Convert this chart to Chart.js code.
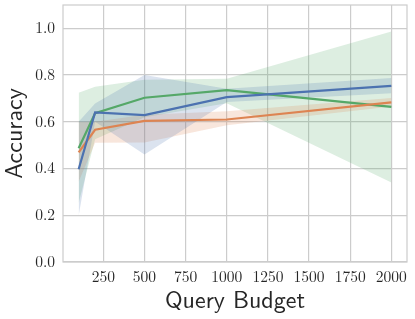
<!DOCTYPE html>
<html>
<head>
<meta charset="utf-8">
<script src="https://cdn.jsdelivr.net/npm/chart.js@4/dist/chart.umd.min.js"></script>
<style>
html,body{margin:0;padding:0;background:#fff;}
#c{display:block;}
</style>
</head>
<body>
<canvas id="c" width="415" height="319"></canvas>
<script>
// ---- data ----
const budgets = [100, 200, 500, 1000, 2000];

const blueMean  = [0.397, 0.640, 0.629, 0.706, 0.754];
const blueUpper = [0.600, 0.678, 0.800, 0.742, 0.788];
const blueLower = [0.198, 0.600, 0.460, 0.685, 0.722];

const orangeMean  = [0.469, 0.566, 0.604, 0.610, 0.683];
const orangeUpper = [0.600, 0.600, 0.630, 0.645, 0.702];
const orangeLower = [0.344, 0.510, 0.512, 0.585, 0.666];

const greenMean  = [0.487, 0.637, 0.703, 0.736, 0.664];
const greenUpper = [0.724, 0.750, 0.780, 0.784, 0.987];
const greenLower = [0.251, 0.525, 0.620, 0.680, 0.340];

const xTicks = [250, 500, 750, 1000, 1250, 1500, 1750, 2000];
const yTicks = [0.0, 0.2, 0.4, 0.6, 0.8, 1.0];

const BLUE = '#4c72b0', ORANGE = '#dd8452', GREEN = '#55a868';
const TEXT = '#262626', GRID = '#cccccc';
const SERIF = "'Latin Modern Roman', 'Liberation Serif', serif";
const SANS = "'Latin Modern Sans', Lato, sans-serif";

function pts(arr){ return budgets.map((b,i)=>({x:b, y:arr[i]})); }
function band(upper, lower, rgba){
  return [
    {data: pts(upper), borderWidth:0, pointRadius:0, fill:'+1', backgroundColor: rgba, tension:0},
    {data: pts(lower), borderWidth:0, pointRadius:0, fill:false, tension:0}
  ];
}
function line(mean, color){
  return {data: pts(mean), borderColor: color, borderWidth: 2.2, pointRadius: 0, fill:false, tension:0};
}

const framePlugin = {
  id:'frame',
  beforeDatasetsDraw(chart){
    const {ctx, chartArea:a} = chart;
    ctx.save();
    ctx.strokeStyle = GRID;
    ctx.lineWidth = 1.2;
    ctx.strokeRect(a.left, a.top, a.right - a.left, a.bottom - a.top);
    ctx.restore();
  }
};

new Chart(document.getElementById('c'), {
  type: 'line',
  data: {
    datasets: [
      ...band(blueUpper, blueLower, 'rgba(76,114,176,0.2)'),
      ...band(orangeUpper, orangeLower, 'rgba(221,132,82,0.2)'),
      ...band(greenUpper, greenLower, 'rgba(85,168,104,0.2)'),
      line(blueMean, BLUE),
      line(orangeMean, ORANGE),
      line(greenMean, GREEN)
    ]
  },
  options: {
    responsive: false,
    animation: false,
    devicePixelRatio: 1,
    layout: {padding: {top: 5, right: 8, left: 0, bottom: 0}},
    plugins: {
      legend: {display: false},
      tooltip: {enabled: false},
      filler: {drawTime: 'beforeDatasetsDraw'}
    },
    scales: {
      x: {
        type: 'linear',
        min: 5, max: 2095,
        afterBuildTicks(s){ s.ticks = xTicks.map(v=>({value:v})); },
        afterFit(s){ s.height = 57; s.paddingLeft = 0; s.paddingRight = 0; },
        grid: {color: GRID, lineWidth: 1.2, drawTicks: false},
        border: {display: false},
        ticks: {
          color: TEXT, padding: 6,
          font: {family: SERIF, size: 15.5},
          maxRotation: 0, autoSkip: false,
          callback: v => String(v)
        },
        title: {
          display: true, text: 'Query Budget', color: TEXT,
          font: {family: SANS, size: 24},
          padding: {top: 0, bottom: 4}
        }
      },
      y: {
        min: 0, max: 1.1,
        afterBuildTicks(s){ s.ticks = yTicks.map(v=>({value:v})); },
        afterFit(s){ s.width = 63; s.paddingTop = 0; s.paddingBottom = 0; },
        grid: {color: GRID, lineWidth: 1.2, drawTicks: false},
        border: {display: false},
        ticks: {
          color: TEXT, padding: 8,
          font: {family: SERIF, size: 15.5},
          callback: v => Number(v).toFixed(1)
        },
        title: {
          display: true, text: 'Accuracy', color: TEXT,
          font: {family: SANS, size: 24},
          padding: {top: 0, bottom: 0}
        }
      }
    }
  },
  plugins: [framePlugin]
});
</script>
</body>
</html>
